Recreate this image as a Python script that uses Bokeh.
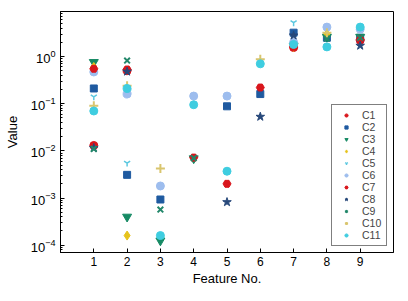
import numpy as np
from bokeh.plotting import figure
from bokeh.models import Legend, LegendItem, FixedTicker, Range1d
from bokeh.embed import file_html
from bokeh.resources import INLINE

nan = float("nan")
features = [1, 2, 3, 4, 5, 6, 7, 8, 9]
C1 = [0.013, 0.50, nan, nan, nan, nan, 1.55, nan, 2.2]
C2 = [0.21, 0.0031, 0.00093, nan, 0.088, 0.16, 3.2, 2.5, 2.5]
C3 = [0.76, 0.0004, 0.000125, 0.0069, nan, nan, 1.7, 2.6, 2.6]
C4 = [0.60, 0.00016, nan, nan, nan, nan, 1.6, 3.0, nan]
C5 = [0.14, 0.0055, nan, nan, nan, nan, 5.2, nan, nan]
C6 = [0.47, 0.16, 0.0018, 0.145, 0.145, nan, 2.0, 4.2, 3.8]
C7 = [0.55, 0.53, nan, 0.0072, 0.002, 0.22, 1.6, nan, 2.3]
C8 = [0.0115, 0.48, nan, nan, 0.00082, 0.053, 2.8, nan, 1.7]
C9 = [0.011, 0.82, 0.00057, 0.007, nan, nan, nan, 2.4, 2.5]
C10 = [0.09, 0.24, 0.0042, nan, nan, 0.88, nan, 3.2, nan]
C11 = [0.07, 0.21, 0.00016, 0.095, 0.0037, 0.70, 1.8, 1.6, 4.2]

names = ["C1", "C2", "C3", "C4", "C5", "C6", "C7", "C8", "C9", "C10", "C11"]
series = [C1, C2, C3, C4, C5, C6, C7, C8, C9, C10, C11]
markers = ["circle", "square", "inverted_triangle", "diamond", "y", "circle",
           "hex", "star", "x", "cross", "circle"]
colors = ["#d9161c", "#1f5aa0", "#168a64", "#e6c31c", "#5cc8e0", "#9dbdee",
          "#d9161c", "#27487a", "#22876a", "#d9c56e", "#3fcde0"]
sizes = [8, 7, 9, 9, 7, 8, 8, 9, 8, 9, 8]

p = figure(width=398, height=292, output_backend="svg", toolbar_location=None,
           y_axis_type="log", x_range=Range1d(0, 10), y_range=Range1d(7e-5, 9),
           min_border_left=60, min_border_right=5, min_border_top=11, min_border_bottom=40)
p.grid.visible = False
p.outline_line_color = "black"
p.outline_line_width = 1
p.background_fill_color = "white"

items = []
for n, s, m, c, sz in zip(names, series, markers, colors, sizes):
    lw = 2 if m in ("x", "cross") else (1.5 if m == "y" else 1)
    r = p.scatter(features, s, marker=m, size=sz, fill_color=c, line_color=c, line_width=lw)
    items.append(LegendItem(label=n, renderers=[r]))

for ax in (p.xaxis[0], p.yaxis[0]):
    ax.major_tick_in = 4
    ax.major_tick_out = 0
    ax.minor_tick_in = 2
    ax.minor_tick_out = 0
    ax.axis_line_color = "black"
    ax.major_label_text_font = "Liberation Sans"
    ax.major_label_text_font_size = "12px"
    ax.major_label_text_color = "black"
    ax.axis_label_text_font = "Liberation Sans"
    ax.axis_label_text_font_size = "13px"
    ax.axis_label_text_font_style = "normal"
    ax.axis_label_text_color = "black"

p.yaxis.major_label_text_font_size = "13px"
p.xaxis.ticker = FixedTicker(ticks=features)
p.xaxis.axis_label = "Feature No."
p.xaxis.axis_label_standoff = 2
p.xaxis.major_label_standoff = 4
p.yaxis.axis_label = "Value"
p.yaxis.axis_label_standoff = 8

legend = Legend(items=items, location="bottom_right")
legend.margin = 6
legend.padding = 4
legend.spacing = 0
legend.label_text_font = "Liberation Sans"
legend.label_text_font_size = "10.5px"
legend.label_height = 8
legend.glyph_height = 8
legend.glyph_width = 20
legend.label_standoff = 6
legend.border_line_color = "black"
legend.border_line_width = 1
p.add_layout(legend, "center")

open("out.html", "w").write(file_html(p, INLINE))
